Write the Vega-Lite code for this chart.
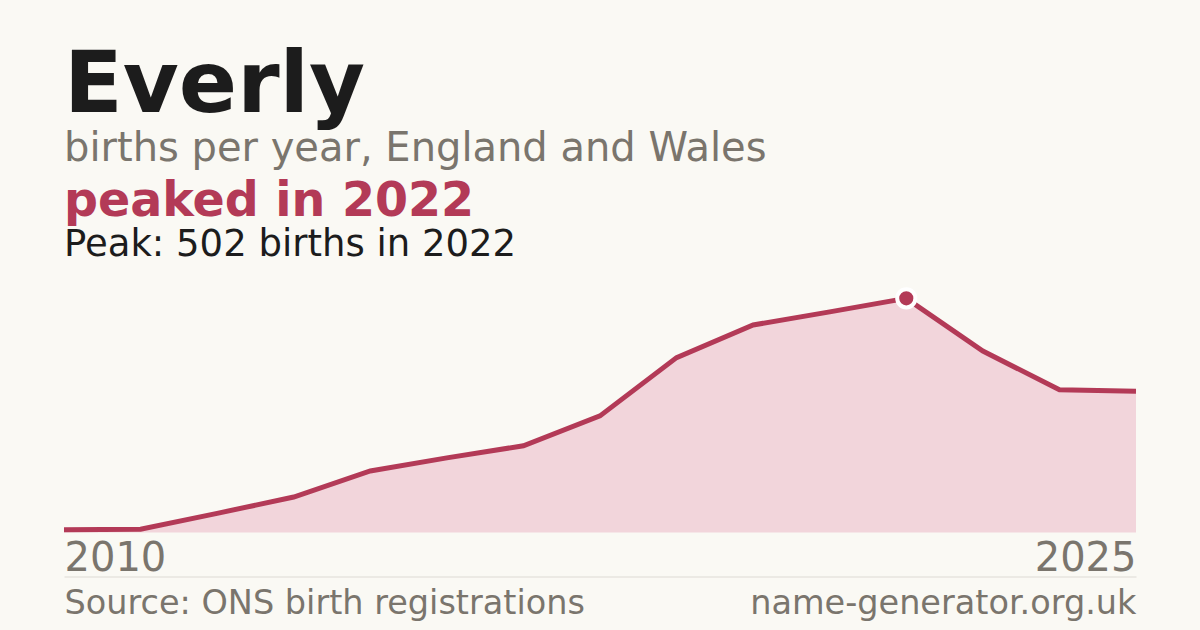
{
  "$schema": "https://vega.github.io/schema/vega-lite/v6.json",
  "description": "Everly births per year, England and Wales",
  "background": "#FAF9F4",
  "padding": {"left": 54, "right": 64, "top": 42.5, "bottom": 14},
  "title": {
    "text": "Everly",
    "subtitle": "births per year, England and Wales",
    "anchor": "start",
    "frame": "group",
    "font": "DejaVu Sans",
    "fontSize": 86,
    "fontWeight": "bold",
    "color": "#1C1C1C",
    "subtitleFont": "DejaVu Sans",
    "subtitleFontSize": 40,
    "subtitleColor": "#7A756D",
    "subtitlePadding": -1,
    "offset": 7.5
  },
  "datasets": {
    "everly": [
      {"year": 2011, "births": 6},
      {"year": 2012, "births": 7},
      {"year": 2013, "births": 41},
      {"year": 2014, "births": 76},
      {"year": 2015, "births": 132},
      {"year": 2016, "births": 160},
      {"year": 2017, "births": 186},
      {"year": 2018, "births": 250},
      {"year": 2019, "births": 375},
      {"year": 2020, "births": 445},
      {"year": 2021, "births": 473},
      {"year": 2022, "births": 502},
      {"year": 2023, "births": 389},
      {"year": 2024, "births": 306},
      {"year": 2025, "births": 303}
    ]
  },
  "vconcat": [
    {
      "width": 1072,
      "height": 250,
      "title": {
        "text": "peaked in 2022",
        "subtitle": "Peak: 502 births in 2022",
        "anchor": "start",
        "frame": "group",
        "font": "DejaVu Sans",
        "fontSize": 47.5,
        "fontWeight": "bold",
        "color": "#B33A57",
        "subtitleFont": "DejaVu Sans",
        "subtitleFontSize": 37,
        "subtitleColor": "#1C1C1C",
        "subtitlePadding": 1.7,
        "offset": 18.4
      },
      "data": {"name": "everly"},
      "layer": [
        {
          "mark": {"type": "area", "color": "#F2D5DB"},
          "encoding": {
            "x": {
              "field": "year",
              "type": "quantitative",
              "scale": {"domain": [2011, 2025], "nice": false, "zero": false},
              "axis": {
                "orient": "bottom",
                "values": [2011, 2025],
                "labelExpr": "datum.value == 2011 ? '2010' : '2025'",
                "labelFlush": true,
                "labelOverlap": false,
                "labelFont": "DejaVu Sans",
                "labelFontSize": 40,
                "labelColor": "#7A756D",
                "labelPadding": 6.4,
                "ticks": false,
                "tickSize": 0,
                "domain": false,
                "grid": false,
                "title": null
              }
            },
            "y": {
              "field": "births",
              "type": "quantitative",
              "scale": {"domain": [0, 536], "nice": false},
              "axis": null
            }
          }
        },
        {
          "mark": {"type": "line", "color": "#B33A57", "strokeWidth": 5},
          "encoding": {
            "x": {
              "field": "year",
              "type": "quantitative",
              "axis": {
                "orient": "bottom",
                "offset": 44,
                "values": [2011, 2025],
                "labelExpr": "datum.value == 2011 ? 'Source: ONS birth registrations' : 'name-generator.org.uk'",
                "labelFlush": true,
                "labelOverlap": false,
                "labelLimit": 0,
                "labelFont": "DejaVu Sans",
                "labelFontSize": 33.5,
                "labelColor": "#7A756D",
                "labelPadding": 10.5,
                "ticks": false,
                "tickSize": 0,
                "domain": true,
                "domainColor": "#DDDAD4",
                "domainWidth": 1,
                "grid": false,
                "title": null
              }
            },
            "y": {"field": "births", "type": "quantitative", "axis": null}
          }
        },
        {
          "transform": [
            {"joinaggregate": [{"op": "max", "field": "births", "as": "peak"}]},
            {"filter": "datum.births == datum.peak"}
          ],
          "mark": {"type": "circle", "color": "#B33A57", "opacity": 1, "size": 330, "stroke": "#FFFFFF", "strokeWidth": 4},
          "encoding": {
            "x": {"field": "year", "type": "quantitative", "axis": null},
            "y": {"field": "births", "type": "quantitative", "axis": null}
          }
        }
      ],
      "resolve": {"axis": {"x": "independent"}}
    }
  ],
  "config": {
    "font": "DejaVu Sans",
    "view": {"stroke": null},
    "concat": {"spacing": 0}
  }
}
